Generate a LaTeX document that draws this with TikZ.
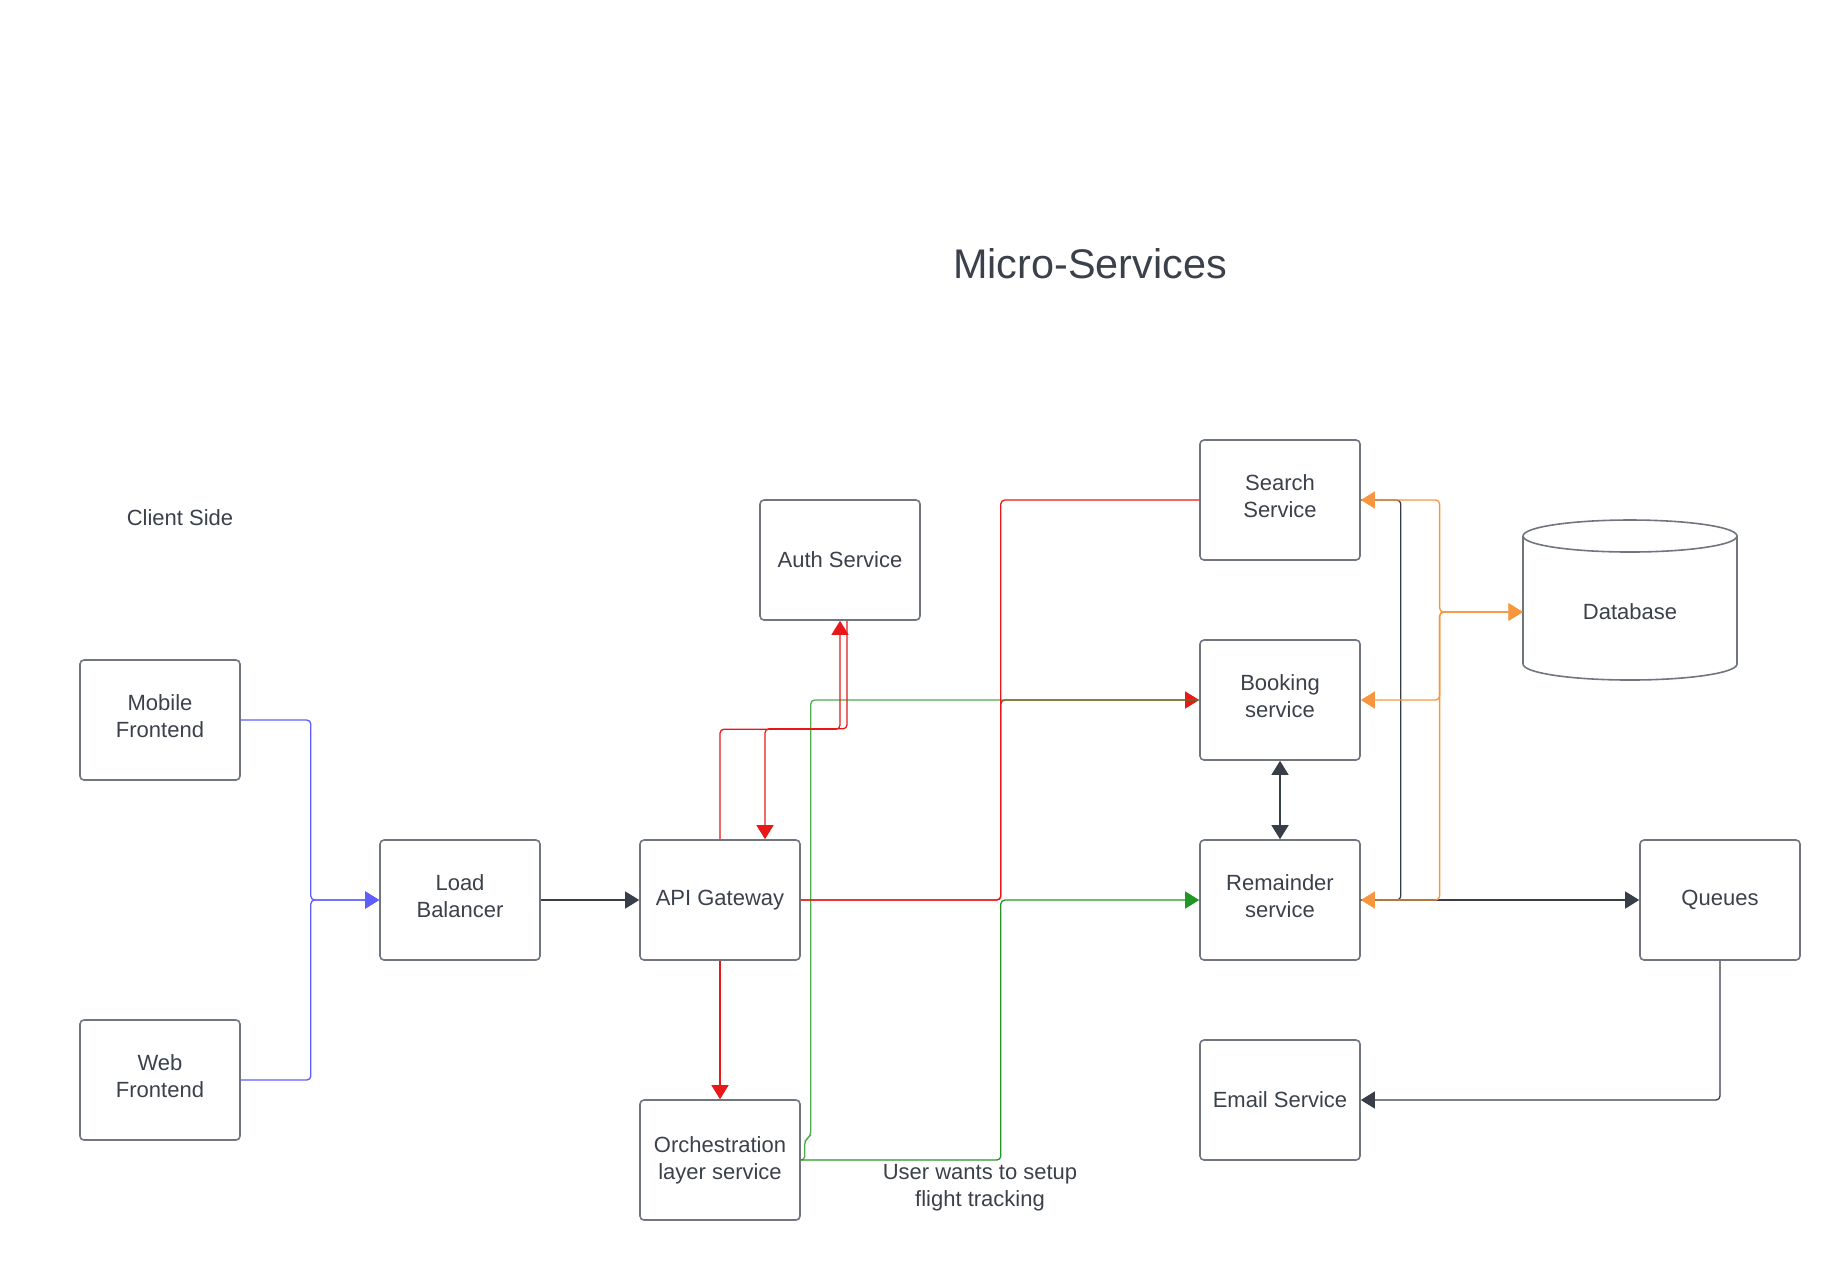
\documentclass[tikz,border=0pt]{standalone}
\usepackage{fontspec}
\setmainfont{Liberation Sans}
\usetikzlibrary{arrows.meta,calc}
\definecolor{inkgray}{RGB}{58,65,74}
\definecolor{boxgray}{RGB}{112,117,126}
\definecolor{lnred}{RGB}{232,24,24}
\definecolor{lngreen}{RGB}{34,150,34}
\definecolor{lnorange}{RGB}{247,150,62}
\definecolor{lnblue}{RGB}{94,94,255}
\definecolor{lndark}{RGB}{55,62,72}
\tikzset{
  lucid/.tip={Triangle[length=7pt,width=8.5pt]},
  svc/.style={draw=boxgray,line width=0.8pt,rounded corners=2pt,minimum width=80pt,minimum height=60pt,align=center,text=inkgray,font=\fontsize{11}{13.5}\selectfont},
  twoline/.style={svc,text depth=3.5pt},
  lbl/.style={text=inkgray,align=center,font=\fontsize{11}{13.5}\selectfont},
  conn/.style={line width=0.65pt,rounded corners=2pt,-lucid},
  twoway/.style={line width=0.65pt,rounded corners=2pt,lucid-lucid},
  bare/.style={line width=0.65pt,rounded corners=2pt},
  dbline/.style={draw=boxgray,line width=0.8pt}
}

\begin{document}
\begin{tikzpicture}[x=0.5pt,y=-0.5pt]
\useasboundingbox (0,0) rectangle (1840,1260);
\node[lbl,font=\fontsize{20.7}{24}\selectfont] (title) at (1090,264) {Micro-Services};
\node[lbl] (client) at (180,518) {Client Side};
\node[twoline] (mobile) at (160,720) {Mobile\\Frontend};
\node[twoline] (web) at (160,1080) {Web\\Frontend};
\node[twoline] (lb) at (460,900) {Load\\Balancer};
\node[svc] (api) at (720,900) {API Gateway};
\node[svc] (auth) at (840,560) {Auth Service};
\node[svc] (orch) at (720,1160) {Orchestration\\layer service};
\node[twoline] (search) at (1280,500) {Search\\Service};
\node[twoline] (booking) at (1280,700) {Booking\\service};
\node[twoline] (remind) at (1280,900) {Remainder\\service};
\node[svc] (email) at (1280,1100) {Email Service};
\node[svc] (queues) at (1720,900) {Queues};
\node[lbl,minimum width=107pt] (db) at (1630,612) {Database};
\node[lbl] (track) at (980,1188) {User wants to setup\\flight tracking};
\draw[dbline] (1630,536) ellipse [x radius=107,y radius=16];
\draw[dbline] (1523,536) -- (1523,664) arc [start angle=180,end angle=0,x radius=107,y radius=16] -- (1737,536);

\draw[conn,lnblue] (mobile.east) -- ++(70,0) |- (lb.west);
\draw[conn,lnblue] (web.east) -- ++(70,0) |- (lb.west);
\draw[conn,lndark] (lb) -- (api);
\draw[conn,lnred] (api.east) -- ++(200,0) |- (booking.west);
\draw[conn,lngreen] (orch.east) -- ++(200,0) |- (remind.west);
\draw[bare,lngreen,draw opacity=0.8] (orch.east) -- ++(4,0) -- ++(0,-20) -- ++(6,-4) |- (booking.west);
\draw[conn,lnred] (api.north) -- ++(0,-110) -| (auth.south);
\draw[conn,lnred] ([xshift=3.5pt]auth.south) -- ++(0,108) -| ([xshift=22.5pt]api.north);
\draw[conn,lnred] (api) -- (orch);
\draw[bare,lnred] (api.east) -- ++(200,0) |- (search.west);
\draw[twoway,lndark] (booking) -- (remind);
\draw[conn,lndark] (remind) -- (queues);
\draw[conn,lndark] (queues.south) |- (email.east);
\draw[bare,lndark] (search.east) -- ++(40,0) |- (remind.east);
\draw[twoway,lnorange] (db.west) -- ++(-83,0) |- (search.east);
\draw[twoway,lnorange] (db.west) -- ++(-83,0) |- (booking.east);
\draw[twoway,lnorange] (db.west) -- ++(-83,0) |- (remind.east);
\end{tikzpicture}
\end{document}
